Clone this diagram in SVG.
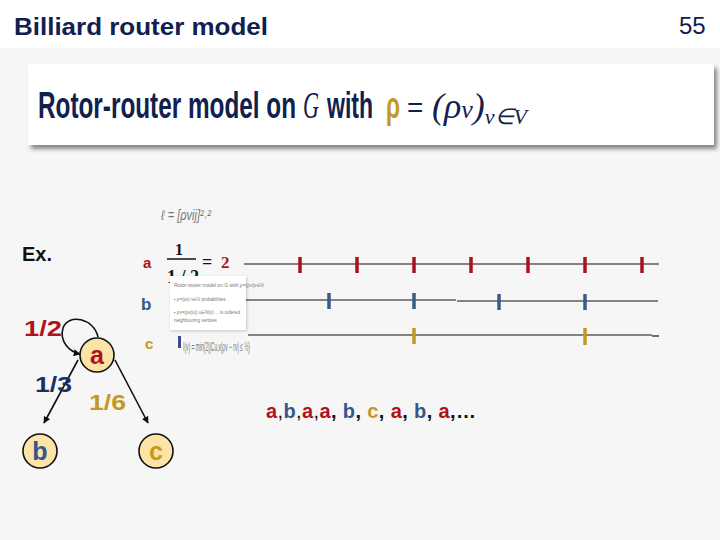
<svg xmlns="http://www.w3.org/2000/svg" width="720" height="540" viewBox="0 0 720 540">
<style>
.t{font-family:"Liberation Sans",Arial,sans-serif}
.b{font-weight:bold}
.red{fill:#b0121c}.blu{fill:#34578f}.gld{fill:#c29a1f}.nav{fill:#10204f}
.node{fill:#fce3a6;stroke:#111;stroke-width:1.6}
.edge{stroke:#111;stroke-width:1.6;fill:none}
.ln{stroke:#111;stroke-width:1.2}
.tr{stroke:#a8121c;stroke-width:3.5}
.tb{stroke:#3a5a8c;stroke-width:3.5}
.tg{stroke:#c29a1f;stroke-width:3.5}
.faint{font-family:"Liberation Sans",Arial,sans-serif;fill:#777}
</style>
<defs>
<marker id="ar" viewBox="0 0 10 10" refX="9" refY="5" markerWidth="7" markerHeight="7" orient="auto" markerUnits="userSpaceOnUse">
<path d="M0,0 L10,5 L0,10 z" fill="#111"/>
</marker>
<filter id="sh" x="-5%" y="-20%" width="110%" height="150%">
<feDropShadow dx="3" dy="4" stdDeviation="2" flood-color="#000" flood-opacity="0.45"/>
</filter>
<filter id="sh2" x="-10%" y="-10%" width="120%" height="130%">
<feDropShadow dx="1" dy="1" stdDeviation="1.5" flood-color="#000" flood-opacity="0.2"/>
</filter>
</defs>
<rect width="720" height="540" fill="#f6f6f6"/>
<rect width="720" height="48" fill="#ffffff"/>
<text class="t b nav" x="14" y="35" font-size="23" textLength="254" lengthAdjust="spacingAndGlyphs">Billiard router model</text>
<text class="t nav" x="679" y="34" font-size="24">55</text>

<g id="banner">
<rect x="28" y="64" width="686" height="81" fill="#fff" filter="url(#sh)"/>
<text class="t b nav" x="38" y="118" font-size="37" textLength="258" lengthAdjust="spacingAndGlyphs">Rotor-router model on</text>
<text x="303" y="118" font-size="38" font-family="Liberation Serif,serif" font-style="italic" class="nav" textLength="16" lengthAdjust="spacingAndGlyphs">G</text>
<text class="t b nav" x="327" y="118" font-size="37" textLength="46" lengthAdjust="spacingAndGlyphs">with</text>
<text class="t b gld" x="386" y="118" font-size="37" textLength="14" lengthAdjust="spacingAndGlyphs">ρ</text>
<text class="t nav" x="407" y="117" font-size="28">=</text>
<text x="432" y="118" font-size="36" font-family="Liberation Serif,serif" font-style="italic" class="nav">(ρ<tspan font-size="26">v</tspan>)<tspan font-size="22" dy="6">v∈V</tspan></text>
</g>

<text class="t b" x="22" y="261" font-size="20" fill="#111">Ex.</text>

<g id="formula-top">
<text class="faint" x="161" y="220" font-size="14" textLength="50" lengthAdjust="spacingAndGlyphs" font-style="italic">ℓ = [ρvij]²˒²</text>
</g>

<g id="row-labels">
<text class="t b red" x="143" y="268" font-size="15">a</text>
<text class="t b blu" x="141" y="310" font-size="17">b</text>
<text class="t b gld" x="145" y="349" font-size="15">c</text>
<text x="175" y="255" font-size="16" font-weight="bold" font-family="Liberation Serif,serif" fill="#111">1</text>
<line x1="167" y1="259" x2="196" y2="259" stroke="#111" stroke-width="1.5"/>
<text x="202" y="268" font-size="18" font-weight="bold" font-family="Liberation Serif,serif" fill="#111">=</text>
<text x="221" y="268" font-size="17" font-weight="bold" font-family="Liberation Serif,serif" class="red">2</text>
<text x="167" y="283" font-size="18" font-weight="bold" font-family="Liberation Serif,serif" fill="#111">1 / 2</text>
</g>

<g id="thumb">
<rect x="170" y="276" width="76" height="54" fill="#fff" filter="url(#sh2)"/>
<text class="faint" x="174" y="287" font-size="5" fill="#34578f">Rotor-router model on G with ρ=(ρv)v∈V</text>
<text class="faint" x="174" y="301" font-size="4.5">▪ ρ=(ρv) v∈V probabilities</text>
<text class="faint" x="174" y="314" font-size="4.5">▪ ρv=(ρv(u)) u∈N(v) ... is ordered</text>
<text class="faint" x="174" y="322" font-size="4.5">  neighbouring vertices</text>
</g>

<g id="formula-c">
<rect x="178" y="336" width="3" height="12" fill="#3b4a8a"/>
<text class="faint" x="183" y="351" font-size="12" textLength="67" lengthAdjust="spacingAndGlyphs">I(v) = min{2||Cu,v|ρv − rv| ≤ ½}</text>
</g>

<g id="timelines">
<line class="ln" x1="244" y1="264" x2="659" y2="264"/>
<line class="ln" x1="246" y1="300" x2="456" y2="300"/>
<line class="ln" x1="457" y1="301" x2="658" y2="301"/>
<line class="ln" x1="248" y1="335" x2="652" y2="335"/>
<line class="ln" x1="652" y1="336" x2="659" y2="336"/>
<g class="tr">
<line x1="300" y1="257" x2="300" y2="273"/><line x1="357" y1="257" x2="357" y2="273"/><line x1="414" y1="257" x2="414" y2="273"/><line x1="471" y1="257" x2="471" y2="273"/><line x1="528" y1="257" x2="528" y2="273"/><line x1="585" y1="257" x2="585" y2="273"/><line x1="642" y1="257" x2="642" y2="273"/>
</g>
<g class="tb">
<line x1="329" y1="293" x2="329" y2="309"/><line x1="414" y1="293" x2="414" y2="309"/><line x1="499" y1="294" x2="499" y2="310"/><line x1="585" y1="294" x2="585" y2="310"/>
</g>
<g class="tg">
<line x1="414" y1="328" x2="414" y2="344"/><line x1="585" y1="328" x2="585" y2="345"/>
</g>
</g>

<g id="connectors">
<path class="edge" d="M98,337 C94,318 68,313 63,328 C59,342 70,352 80,354" marker-end="url(#ar)"/>
<line class="edge" x1="78" y1="360" x2="44" y2="423" marker-end="url(#ar)"/>
<line class="edge" x1="115" y1="360" x2="148" y2="423" marker-end="url(#ar)"/>
</g>

<g id="node-a">
<circle class="node" cx="97" cy="355" r="17"/>
<text class="t b red" x="97" y="364" font-size="25" text-anchor="middle">a</text>
</g>
<g id="node-b">
<circle class="node" cx="40" cy="451" r="17"/>
<text class="t b blu" x="40" y="460" font-size="25" text-anchor="middle">b</text>
</g>
<g id="node-c">
<circle class="node" cx="156" cy="451" r="17"/>
<text class="t b gld" x="156" y="460" font-size="25" text-anchor="middle">c</text>
</g>

<g id="edge-labels">
<text class="t b red" x="24" y="336" font-size="22" textLength="38" lengthAdjust="spacingAndGlyphs">1/2</text>
<text class="t b" x="35" y="392" font-size="22" textLength="37" lengthAdjust="spacingAndGlyphs" fill="#1a3062">1/3</text>
<text class="t b gld" x="89" y="410" font-size="22" textLength="37" lengthAdjust="spacingAndGlyphs">1/6</text>
</g>

<text class="t b" x="266" y="418" font-size="20" textLength="210" fill="#111"><tspan class="red">a</tspan><tspan font-weight="normal">,</tspan><tspan class="blu">b</tspan><tspan font-weight="normal">,</tspan><tspan class="red">a</tspan><tspan font-weight="normal">,</tspan><tspan class="red">a</tspan>, <tspan class="blu">b</tspan>, <tspan class="gld">c</tspan>, <tspan class="red">a</tspan>, <tspan class="blu">b</tspan>, <tspan class="red">a</tspan>,…</text>
</svg>
